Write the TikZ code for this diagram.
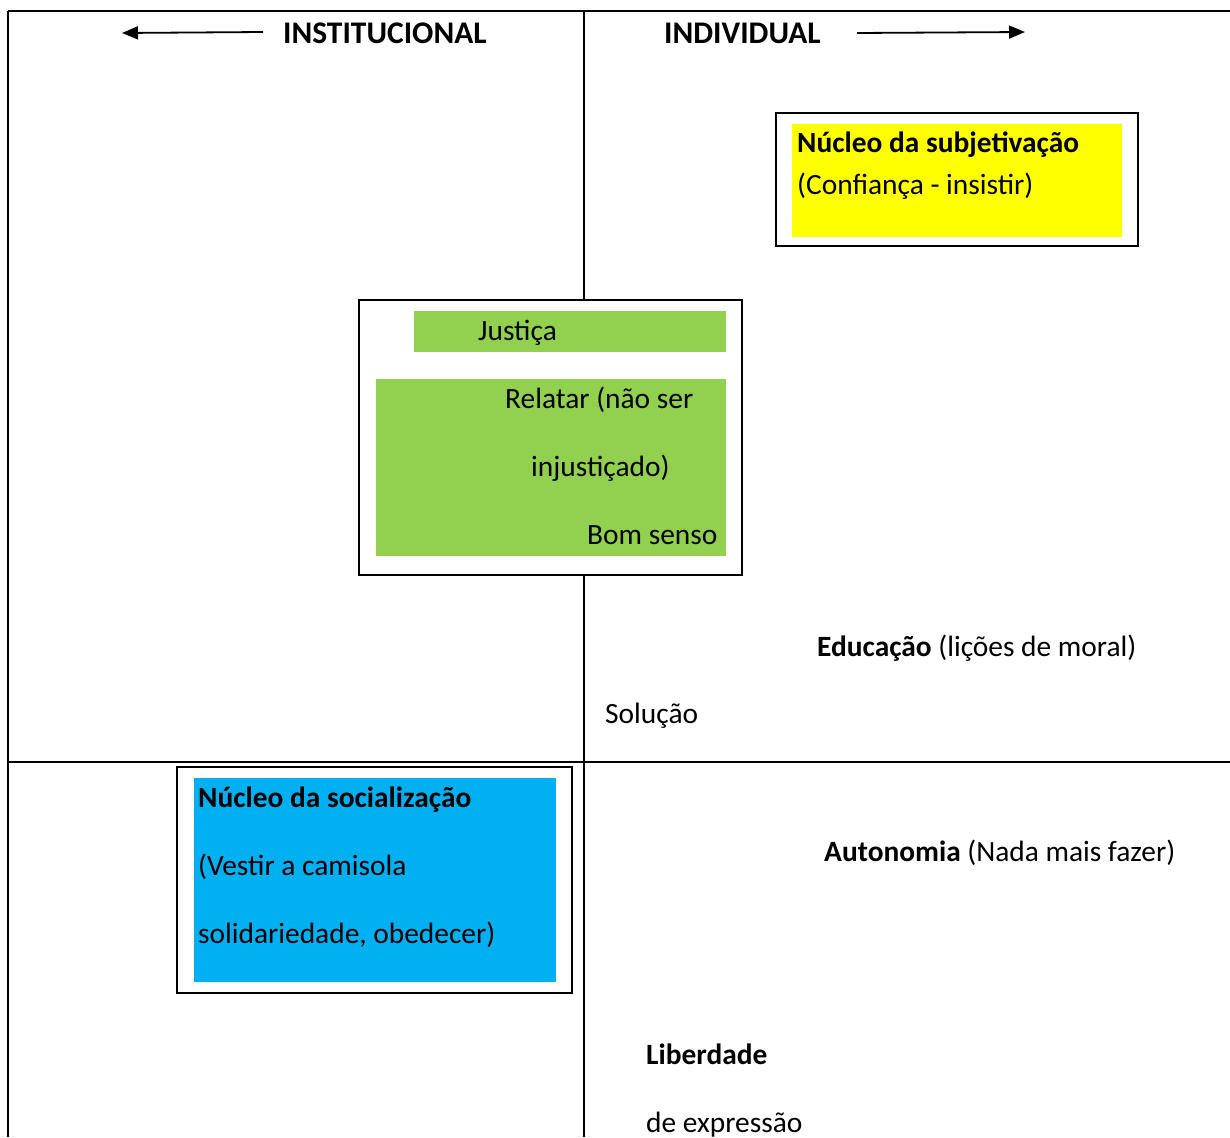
\documentclass[tikz,border=0pt]{standalone}
\usepackage{fontspec}
\setmainfont{Carlito}
\usetikzlibrary{arrows.meta}
\definecolor{cyel}{HTML}{FFFF00}
\definecolor{cgreen}{HTML}{92D050}
\definecolor{cblue}{HTML}{00B0F0}
\tikzset{
  rule/.style={line width=1.6pt, black},
  frame/.style={draw=black, line width=1.6pt, fill=white},
  txt/.style={anchor=base west, inner sep=0pt, font=\fontsize{29.4}{34}\selectfont},
  btxt/.style={txt, font=\fontsize{29.4}{34}\selectfont\bfseries},
  hdr/.style={anchor=base west, inner sep=0pt, font=\fontsize{31.5}{36}\selectfont\bfseries},
  dirarrow/.style={line width=1.8pt, -{Triangle[length=16pt,width=13pt]}}
}
\begin{document}
\begin{tikzpicture}[x=1pt,y=-1pt]
\useasboundingbox (0,0) rectangle (1230,1137);
% table grid
\coordinate (tl) at (8,11);
\coordinate (tr) at (1230,11);
\coordinate (bl) at (8,1137);
\coordinate (mt) at (584,11);
\coordinate (mb) at (584,1137);
\coordinate (hl) at (8,762);
\coordinate (hr) at (1230,762);
\draw[rule] (tl) -- (tr);
\draw[rule] (tl) -- (bl);
\draw[rule] (mt) -- (mb);
\draw[rule] (hl) -- (hr);
% headers
\node[hdr] (inst) at (283,44) {INSTITUCIONAL};
\node[hdr] (indiv) at (664,44) {INDIVIDUAL};
\coordinate (la) at (263,32);
\coordinate (lb) at (122,33);
\coordinate (ra) at (857,33);
\coordinate (rb) at (1025,32);
\draw[dirarrow] (la) -- (lb);
\draw[dirarrow] (ra) -- (rb);
% yellow box
\draw[frame] (776,113) rectangle (1138,246);
\fill[cyel] (792,124) rectangle (1122,237);
\node[btxt] (sub1) at (797,152) {Núcleo da subjetivação};
\node[txt] (sub2) at (797,194) {(Confiança - insistir)};
% green box
\draw[frame] (359,300) rectangle (742,575);
\fill[cgreen] (414,311) rectangle (726,352);
\fill[cgreen] (376,379) rectangle (726,556);
\node[txt] (just) at (478,340) {Justiça};
\node[txt] (rel1) at (505,408) {Relatar (não ser};
\node[txt] (rel2) at (531,476) {injustiçado)};
\node[txt] (bom) at (587,544) {Bom senso};
% blue box
\draw[frame] (177,767) rectangle (572,993);
\fill[cblue] (194,778) rectangle (556,982);
\node[btxt] (soc1) at (198,807) {Núcleo da socialização};
\node[txt] (soc2) at (198,875) {(Vestir a camisola};
\node[txt] (soc3) at (198,943) {solidariedade, obedecer)};
% free texts
\node[txt] (edu) at (817,656) {\textbf{Educação} (lições de moral)};
\node[txt] (sol) at (605,723) {Solução};
\node[txt] (aut) at (824,861) {\textbf{Autonomia} (Nada mais fazer)};
\node[btxt] (lib) at (646,1064) {Liberdade};
\node[txt] (exp) at (646,1132) {de expressão};
\end{tikzpicture}
\end{document}
